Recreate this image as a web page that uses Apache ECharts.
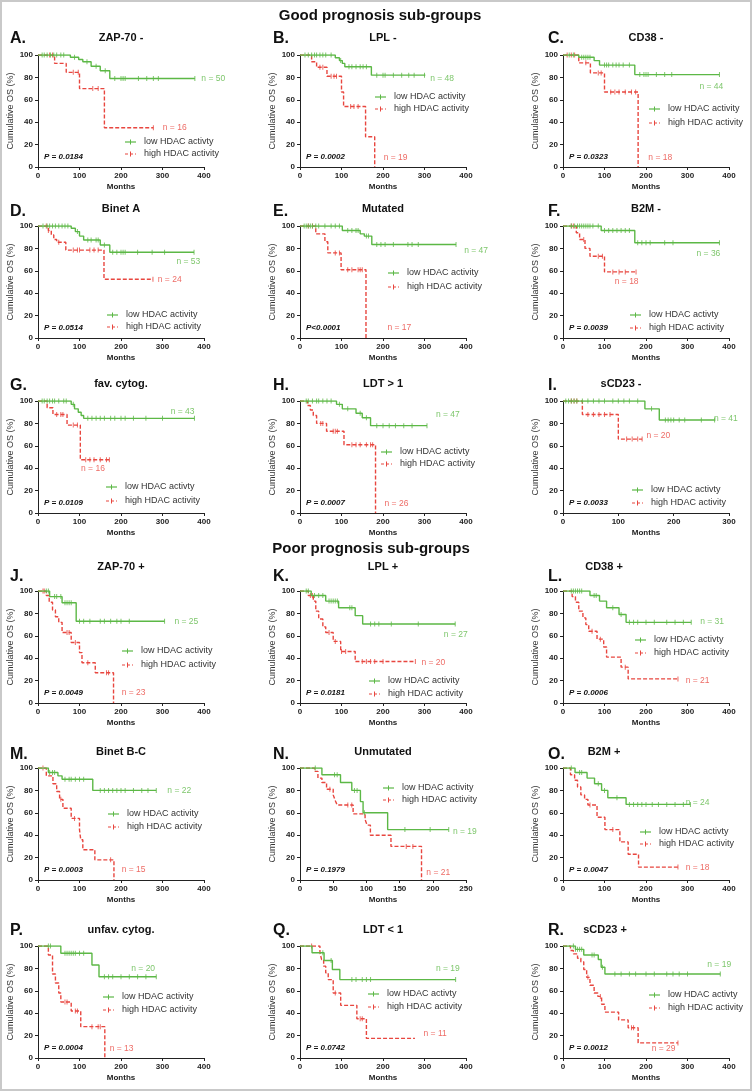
<!DOCTYPE html>
<html><head><meta charset="utf-8">
<script src="https://cdn.jsdelivr.net/npm/echarts@6/dist/echarts.min.js"></script>
<style>html,body{margin:0;padding:0;background:#fff}#c{width:752px;height:1091px}</style>
</head><body><div id="c"></div>
<script>
// ---------------- DATA ----------------
const sectionTitles = ['Good prognosis sub-groups', 'Poor prognosis sub-groups'];
const panelLetters = ['A.','B.','C.','D.','E.','F.','G.','H.','I.','J.','K.','L.','M.','N.','O.','P.','Q.','R.'];
const panelTitles = ['ZAP-70 -','LPL -','CD38 -','Binet A','Mutated','B2M -','fav. cytog.','LDT > 1','sCD23 -',
  'ZAP-70 +','LPL +','CD38 +','Binet B-C','Unmutated','B2M +','unfav. cytog.','LDT < 1','sCD23 +'];
const pValues = ['P = 0.0184','P = 0.0002','P = 0.0323','P = 0.0514','P<0.0001','P = 0.0039','P = 0.0109','P = 0.0007','P = 0.0033',
  'P = 0.0049','P = 0.0181','P = 0.0006','P = 0.0003','P = 0.1979','P = 0.0047','P = 0.0004','P = 0.0742','P = 0.0012'];
const nLow  = [50,48,44,53,47,36,43,47,41,25,27,31,22,19,24,20,19,19];
const nHigh = [16,19,18,24,17,18,16,26,20,23,20,21,15,21,18,13,11,29];
const xMax      = [400,400,400,400,400,400,400,400,300,400,400,400,400,250,400,400,400,400];
const xInterval = [100,100,100,100,100,100,100,100,100,100,100,100,100, 50,100,100,100,100];
const yTicks = [0,20,40,60,80,100];
const lowLabels = ['low HDAC activty','low HDAC activity','low HDAC activity','low HDAC activity','low HDAC activity','low HDAC activty',
  'low HDAC activty','low HDAC activty','low HDAC activty','low HDAC activity','low HDAC activity','low HDAC activty',
  'low HDAC activity','low HDAC activity','low HDAC activty','low HDAC activity','low HDAC activty','low HDAC activty'];
const highLabel = 'high HDAC activity';

// Kaplan-Meier steps [months, % survival] – low HDAC activity (green)
const lowSteps = [
  [[0,100],[78,98],[98,96],[108,94],[128,90],[150,86],[173,79],[378,79]],
  [[0,100],[85,97.5],[95,95],[102,92.5],[108,89.5],[172,82],[302,82]],
  [[0,100],[38,98],[75,95],[88,91],[173,82.5],[377,82.5]],
  [[0,100],[80,98],[90,95],[100,91],[110,87.5],[150,83],[173,76.5],[376,76.5]],
  [[0,100],[102,96],[145,93],[155,91],[173,83.5],[376,83.5]],
  [[0,100],[92,96],[173,85],[377,85]],
  [[0,100],[80,97],[88,93],[97,90],[104,87],[110,84.5],[377,84.5]],
  [[0,100],[88,97],[102,93],[135,89],[150,85],[170,78],[306,78]],
  [[0,100],[148,93],[174,83],[274,83]],
  [[0,100],[28,95],[58,89.5],[92,73],[305,73]],
  [[0,100],[27,96],[62,91],[93,85],[133,78],[151,70.5],[374,70.5]],
  [[0,100],[65,96],[88,91],[105,85],[135,79],[152,72],[309,72]],
  [[0,100],[25,96],[48,93],[58,90],[132,80],[285,80]],
  [[0,100],[33,94],[61,87],[78,80],[91,70],[95,60],[132,45],[224,45]],
  [[0,100],[29,96],[58,91],[76,86],[93,80],[108,73.5],[152,67.5],[307,67.5]],
  [[0,100],[55,93.5],[130,83],[147,72.5],[285,72.5]],
  [[0,100],[29,94],[58,87],[78,79],[96,70],[375,70]],
  [[0,100],[30,97],[50,92],[85,88],[92,81],[101,75],[379,75]]
];
const lowCensor = [
  [10,15,22,30,38,45,55,62,88,118,140,162,185,200,205,210,242,262,278,290,378],
  [12,20,28,35,40,48,55,62,75,98,118,125,135,145,152,160,185,200,205,225,245,262,275,300],
  [15,25,45,50,55,60,65,100,105,110,120,128,135,145,160,185,195,200,205,225,245,262,377],
  [12,22,28,35,42,50,58,65,72,95,120,128,140,145,160,180,190,200,205,210,240,275,305,376],
  [10,15,20,25,30,38,45,60,75,85,95,115,125,135,140,160,165,185,195,205,225,260,270,285,376],
  [20,28,35,40,45,50,55,60,65,72,85,100,110,120,130,140,150,160,180,190,200,210,245,265,377],
  [10,15,22,28,35,40,50,62,68,85,120,130,140,150,160,175,185,200,210,230,260,300,377],
  [15,20,30,40,45,55,65,75,95,115,145,160,185,200,215,230,250,270,306],
  [5,10,15,20,25,35,45,55,65,75,90,100,110,120,135,160,185,190,195,200,210,220,250,274],
  [20,25,40,45,55,65,70,75,80,100,110,125,150,160,175,190,200,220,305],
  [15,20,35,45,55,70,75,80,85,90,120,125,170,180,190,220,285,374],
  [20,25,30,35,40,45,75,80,120,140,160,170,180,200,220,250,270,290,309],
  [28,35,40,65,75,80,90,100,110,150,160,170,180,190,200,210,230,250,265,285],
  [23,52,56,82,86,97,158,196,224],
  [20,40,45,85,100,130,160,170,180,190,200,215,230,250,270,290,307],
  [25,30,65,70,75,80,85,90,100,110,160,170,180,200,220,240,260,285],
  [55,75,125,135,150,160,170,375],
  [25,30,35,40,45,70,75,95,125,140,160,175,200,220,250,265,280,300,379]
];
// high HDAC activity (red, dashed)
const highSteps = [
  [[0,100],[40,92.5],[68,84.5],[100,70],[160,35],[278,35]],
  [[0,100],[28,94],[40,89],[65,81],[100,67],[105,54],[158,27],[180,0]],
  [[0,100],[38,93],[66,84],[100,67],[181,0]],
  [[0,100],[25,96],[32,92],[38,88],[45,85.5],[67,78.5],[159,52.5],[277,52.5]],
  [[0,100],[38,93],[60,86],[67,76],[99,61],[159,0]],
  [[0,100],[32,94],[40,88],[53,80],[65,73],[100,59],[176,59]],
  [[0,100],[22,94],[36,88],[70,78.5],[102,47.5],[172,47.5]],
  [[0,100],[18,96],[25,92],[32,87],[40,80],[64,73],[106,61],[182,0]],
  [[0,100],[35,88],[100,66],[143,66]],
  [[0,100],[20,96],[27,90],[35,83],[42,77],[50,72],[58,63],[80,54],[100,45],[106,36],[138,27],[182,0]],
  [[0,100],[20,96],[32,91],[38,82],[45,75],[55,68],[62,63],[80,55],[98,46],[133,37],[278,37]],
  [[0,100],[22,95],[30,90],[38,82],[48,76],[55,70],[62,64],[82,57],[98,50],[105,41],[140,32],[157,21.5],[277,21.5]],
  [[0,100],[20,93],[36,86],[45,79],[52,72],[60,64],[80,55],[100,45],[103,36],[108,27],[137,18],[183,0]],
  [[0,100],[22,97],[27,91],[33,87],[40,81],[50,76],[53,71],[56,67],[80,59],[98,54],[101,49],[106,40],[137,30],[183,0]],
  [[0,100],[18,94],[28,89],[35,83],[43,76],[52,72],[60,67],[82,56],[101,45],[137,34],[157,23],[182,11.5],[277,11.5]],
  [[0,100],[25,92],[35,75],[42,67],[50,58],[55,50],[80,42],[103,28],[161,0]],
  [[0,100],[48,94],[52,88],[57,82],[62,76],[68,70],[80,58],[98,47],[137,35],[160,17.5],[277,17.5]],
  [[0,100],[18,96],[25,93],[35,89],[43,86],[50,79],[57,72],[65,65],[75,58],[84,55],[93,48],[101,41],[134,34],[157,27],[181,13.5],[277,13.5]]
];
const highCensor = [
  [28,35,85,97,132,145,278],
  [48,55,75,82,88,122,130,140],
  [10,20,28,55,85,92,115,125,135,150,165,175],
  [20,25,50,85,95,100,125,135,145,277],
  [20,30,85,95,115,125,140,145,150],
  [20,25,50,85,95,120,135,150,176],
  [45,55,60,85,95,115,125,135,150,165,172],
  [50,55,80,85,90,125,135,145,160,170,175],
  [15,20,25,45,55,65,75,85,115,125,135,143],
  [12,15,70,75,90,120,165,170],
  [25,30,70,85,100,110,150,160,170,180,200,278],
  [70,90,150,277],
  [12,55,88,175],
  [45,72,78,160,170],
  [65,120,277],
  [65,70,90,95,130,145,150],
  [28,85,145,150],
  [60,90,165,170,277]
];

// ---------------- LAYOUT ----------------
const colX = [38, 300, 563];
const rowTop = [55, 226, 401, 591, 768, 946];
const GW = 166, GH = 112;
const letterX = [10, 273, 548];
const letterY = [39, 212, 386, 577, 755, 931];
const titleY = [38, 209, 384, 567, 752, 930];
const titleXOverride = {8: 621, 11: 604, 14: 604, 17: 605};
// n-label anchors in data units [months, %]
const nLowAt  = [[390,79],[310,79],[325,72],[330,68.6],[392,78],[318,75],[316,90.5],[324,88],[270,84],
                 [325,73],[343,61],[327,73],[308,79.5],[228,43.5],[292,69],[221,80],[324,80],[344,83]];
const nHighAt = [[297,35],[198,8],[202,8],[285,52],[207,9],[121,50],[100,40],[200,8.5],[148,69],
                 [198,9.5],[289,36],[292,20],[198,9],[188,7],[292,11],[169,8],[294,22],[210,8]];
// legend anchors in px [iconLeft, row1Y, row2Y]
const legendAt = [[125,142,154],[375,97,109],[649,109,123],[107,315,327],[388,273,287],[630,315,328],
  [106,487,501],[381,452,464],[632,490,503],[122,651,665],[369,681,694],[635,640,653],
  [108,814,827],[383,788,800],[640,832,844],[103,997,1010],[368,994,1007],[649,995,1008]];

const GREEN = '#5cb846', RED = '#e8463f', INK = '#222';
const FF = '"Liberation Sans", Arial, sans-serif';

function survAt(steps, t) {
  let s = steps[0][1];
  for (const [tt, v] of steps) { if (tt <= t) s = v; else break; }
  return s;
}

const grid = [], xAxis = [], yAxis = [], series = [], graphic = [];
graphic.push({type:'rect', shape:{x:1,y:1,width:750,height:1089}, style:{fill:'none', stroke:'#c9c9c9', lineWidth:2}});
graphic.push({type:'text', x:380, y:16, style:{text:sectionTitles[0], font:'bold 15px '+FF, fill:'#111', textAlign:'center', textVerticalAlign:'middle'}});
graphic.push({type:'text', x:371, y:549, style:{text:sectionTitles[1], font:'bold 15px '+FF, fill:'#111', textAlign:'center', textVerticalAlign:'middle'}});

for (let i = 0; i < 18; i++) {
  const r = Math.floor(i / 3), c = i % 3;
  const left = colX[c], top = rowTop[r];
  grid.push({left: left, top: top, width: GW, height: GH, containLabel: false});
  xAxis.push({
    type:'value', gridIndex:i, min:0, max:xMax[i], interval:xInterval[i],
    axisLine:{show:true, onZero:false, lineStyle:{color:INK, width:1}},
    axisTick:{show:true, length:3, lineStyle:{color:INK}},
    axisLabel:{fontSize:8, fontWeight:'bold', color:INK, margin:5, fontFamily:FF},
    splitLine:{show:false},
    name:'Months', nameLocation:'middle', nameGap:16,
    nameTextStyle:{fontSize:8, fontWeight:'bold', color:INK, fontFamily:FF}
  });
  yAxis.push({
    type:'value', gridIndex:i, min:yTicks[0], max:yTicks[yTicks.length-1], interval:20,
    axisLine:{show:true, lineStyle:{color:INK, width:1}},
    axisTick:{show:true, length:3, lineStyle:{color:INK}},
    axisLabel:{fontSize:8, fontWeight:'bold', color:INK, margin:5, fontFamily:FF},
    splitLine:{show:false},
    name:'Cumulative OS (%)', nameLocation:'middle', nameGap:23,
    nameTextStyle:{fontSize:9, color:'#333', fontFamily:FF}
  });
  series.push({type:'line', xAxisIndex:i, yAxisIndex:i, data:highSteps[i], step:'end', symbol:'none',
    lineStyle:{color:RED, width:1.4, type:[4,2]}, silent:true, z:2});
  series.push({type:'line', xAxisIndex:i, yAxisIndex:i, data:lowSteps[i], step:'end', symbol:'none',
    lineStyle:{color:GREEN, width:1.4}, silent:true, z:3});
  series.push({type:'scatter', xAxisIndex:i, yAxisIndex:i, symbol:'rect', symbolSize:[1,5],
    itemStyle:{color:RED}, silent:true, z:2,
    data: highCensor[i].map(t => [t, survAt(highSteps[i], t)])});
  series.push({type:'scatter', xAxisIndex:i, yAxisIndex:i, symbol:'rect', symbolSize:[1,5],
    itemStyle:{color:GREEN}, silent:true, z:3,
    data: lowCensor[i].map(t => [t, survAt(lowSteps[i], t)])});
  series.push({type:'scatter', xAxisIndex:i, yAxisIndex:i, symbol:'circle', symbolSize:1, itemStyle:{color:'rgba(0,0,0,0)'}, silent:true, z:4,
    data:[nLowAt[i]], label:{show:true, position:'right', distance:1, formatter:'n = ' + nLow[i], color:'#5cb846', fontSize:8.5, fontFamily:FF}});
  series.push({type:'scatter', xAxisIndex:i, yAxisIndex:i, symbol:'circle', symbolSize:1, itemStyle:{color:'rgba(0,0,0,0)'}, silent:true, z:4,
    data:[nHighAt[i]], label:{show:true, position:'right', distance:1, formatter:'n = ' + nHigh[i], color:'#e8463f', fontSize:8.5, fontFamily:FF}});

  // panel letter and title
  graphic.push({type:'text', x:letterX[c], y:letterY[r], style:{text:panelLetters[i], font:'bold 16px '+FF, fill:'#111', textAlign:'left', textVerticalAlign:'middle'}});
  const tx = titleXOverride[i] !== undefined ? titleXOverride[i] : left + GW/2;
  graphic.push({type:'text', x:tx, y:titleY[r], style:{text:panelTitles[i], font:'bold 11px '+FF, fill:'#111', textAlign:'center', textVerticalAlign:'middle'}});
  // p-value
  graphic.push({type:'text', x:left+6, y:top+GH-10, style:{text:pValues[i], font:'italic bold 8px '+FF, fill:'#111', textAlign:'left', textVerticalAlign:'middle'}});
  // legend
  const [lx, ly1, ly2] = legendAt[i];
  graphic.push({type:'line', shape:{x1:lx, y1:ly1, x2:lx+11, y2:ly1}, style:{stroke:GREEN, lineWidth:1.2}});
  graphic.push({type:'line', shape:{x1:lx+5.5, y1:ly1-2.5, x2:lx+5.5, y2:ly1+2.5}, style:{stroke:GREEN, lineWidth:1}});
  graphic.push({type:'text', x:lx+19, y:ly1, style:{text:lowLabels[i], font:'9px '+FF, fill:'#333', textAlign:'left', textVerticalAlign:'middle'}});
  graphic.push({type:'line', shape:{x1:lx, y1:ly2, x2:lx+11, y2:ly2}, style:{stroke:RED, lineWidth:1.2, lineDash:[3,2]}});
  graphic.push({type:'line', shape:{x1:lx+5.5, y1:ly2-2.5, x2:lx+5.5, y2:ly2+2.5}, style:{stroke:RED, lineWidth:1}});
  graphic.push({type:'text', x:lx+19, y:ly2, style:{text:highLabel, font:'9px '+FF, fill:'#333', textAlign:'left', textVerticalAlign:'middle'}});
}

const chart = echarts.init(document.getElementById('c'), null, {renderer:'canvas'});
chart.setOption({
  animation:false, backgroundColor:'#fff',
  textStyle:{fontFamily:FF},
  grid, xAxis, yAxis, series, graphic
});
</script></body></html>
